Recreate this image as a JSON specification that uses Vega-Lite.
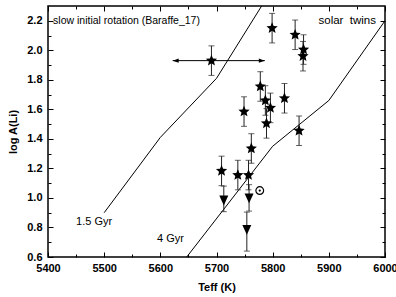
{
  "$schema": "https://vega.github.io/schema/vega-lite/v6.json",
  "width": 337,
  "height": 251,
  "autosize": {"type": "none"},
  "padding": {"left": 48, "top": 6, "right": 11, "bottom": 40},
  "background": "white",
  "config": {
    "view": {"stroke": "black", "strokeWidth": 1.5},
    "axis": {
      "labelFont": "Liberation Sans", "labelFontSize": 11, "labelFontWeight": "bold", "labelColor": "black",
      "titleFont": "Liberation Sans", "titleFontSize": 11, "titleFontWeight": "bold", "titleColor": "black",
      "tickColor": "black", "tickWidth": 1, "domain": false, "grid": false
    },
    "text": {"font": "Liberation Sans", "fontSize": 11, "color": "black"}
  },
  "datasets": {
    "models": [
      {"model": "1.5 Gyr", "Teff": 5500, "ALi": 0.90},
      {"model": "1.5 Gyr", "Teff": 5600, "ALi": 1.41},
      {"model": "1.5 Gyr", "Teff": 5700, "ALi": 1.81},
      {"model": "1.5 Gyr", "Teff": 5800, "ALi": 2.42},
      {"model": "4 Gyr", "Teff": 5647, "ALi": 0.60},
      {"model": "4 Gyr", "Teff": 5800, "ALi": 1.35},
      {"model": "4 Gyr", "Teff": 5900, "ALi": 1.66},
      {"model": "4 Gyr", "Teff": 6000, "ALi": 2.20}
    ],
    "stars": [
      {"type": "detection", "Teff": 5691, "ALi": 1.93, "lo": 1.83, "hi": 2.03},
      {"type": "detection", "Teff": 5799, "ALi": 2.15, "lo": 2.05, "hi": 2.25},
      {"type": "detection", "Teff": 5840, "ALi": 2.105, "lo": 2.005, "hi": 2.205},
      {"type": "detection", "Teff": 5855, "ALi": 2.005, "lo": 1.905, "hi": 2.105},
      {"type": "detection", "Teff": 5854, "ALi": 1.96, "lo": 1.86, "hi": 2.06},
      {"type": "detection", "Teff": 5778, "ALi": 1.755, "lo": 1.655, "hi": 1.855},
      {"type": "detection", "Teff": 5787, "ALi": 1.66, "lo": 1.56, "hi": 1.76},
      {"type": "detection", "Teff": 5796, "ALi": 1.61, "lo": 1.51, "hi": 1.71},
      {"type": "detection", "Teff": 5821, "ALi": 1.675, "lo": 1.575, "hi": 1.775},
      {"type": "detection", "Teff": 5749, "ALi": 1.585, "lo": 1.485, "hi": 1.685},
      {"type": "detection", "Teff": 5789, "ALi": 1.505, "lo": 1.405, "hi": 1.605},
      {"type": "detection", "Teff": 5847, "ALi": 1.455, "lo": 1.355, "hi": 1.555},
      {"type": "detection", "Teff": 5762, "ALi": 1.335, "lo": 1.235, "hi": 1.435},
      {"type": "detection", "Teff": 5709, "ALi": 1.183, "lo": 1.083, "hi": 1.283},
      {"type": "detection", "Teff": 5738, "ALi": 1.155, "lo": 1.055, "hi": 1.255},
      {"type": "detection", "Teff": 5757, "ALi": 1.155, "lo": 1.055, "hi": 1.255},
      {"type": "upper limit", "Teff": 5713, "ALi": 0.986, "lo": 0.907, "hi": 1.08},
      {"type": "upper limit", "Teff": 5758, "ALi": 1.0, "lo": 0.911, "hi": 1.09},
      {"type": "upper limit", "Teff": 5754, "ALi": 0.787, "lo": 0.64, "hi": 0.904}
    ],
    "arrow": [
      {"Teff": 5622, "Teff2": 5786, "ALi": 1.93}
    ],
    "heads": [
      {"end": "left", "Teff": 5622, "ALi": 1.93},
      {"end": "right", "Teff": 5786, "ALi": 1.93}
    ],
    "sun": [
      {"Teff": 5777, "ALi": 1.05}
    ],
    "labelsTitle": [
      {"label": "slow initial rotation (Baraffe_17)", "Teff": 5409, "ALi": 2.197}
    ],
    "labelsLeft": [
      {"label": "1.5 Gyr", "Teff": 5450, "ALi": 0.834},
      {"label": "4 Gyr", "Teff": 5594, "ALi": 0.721}
    ],
    "labelsRight": [
      {"label": "solar\u00a0 twins", "Teff": 5984, "ALi": 2.2}
    ]
  },
  "layer": [
    {
      "data": {"name": "models"},
      "mark": {"type": "line", "color": "black", "strokeWidth": 1, "clip": true},
      "encoding": {
        "x": {"field": "Teff", "type": "quantitative", "scale": {"domain": [5400, 6000], "nice": false, "zero": false},
              "axis": {"orient": "bottom", "values": [5400, 5500, 5600, 5700, 5800, 5900, 6000], "format": "d", "tickSize": -5, "labelPadding": 10, "title": "Teff (K)", "titlePadding": 8, "labelFlush": false}},
        "y": {"field": "ALi", "type": "quantitative", "scale": {"domain": [0.6, 2.3], "nice": false, "zero": false},
              "axis": {"orient": "left", "values": [0.6, 0.8, 1.0, 1.2, 1.4, 1.6, 1.8, 2.0, 2.2], "format": ".1f", "tickSize": -5, "labelPadding": 11, "title": "log A(Li)", "titlePadding": 8, "labelFlush": false}},
        "detail": {"field": "model", "type": "nominal"},
        "order": {"field": "Teff", "type": "quantitative"}
      }
    },
    {
      "data": {"name": "labelsLeft"},
      "mark": {"type": "text", "align": "left", "baseline": "middle"},
      "encoding": {
        "x": {"field": "Teff", "type": "quantitative",
              "axis": {"orient": "top", "values": [5400, 5500, 5600, 5700, 5800, 5900, 6000], "tickSize": -5, "labels": false, "title": null}},
        "y": {"field": "ALi", "type": "quantitative",
              "axis": {"orient": "right", "values": [0.6, 0.8, 1.0, 1.2, 1.4, 1.6, 1.8, 2.0, 2.2], "tickSize": -5, "labels": false, "title": null}},
        "text": {"field": "label", "type": "nominal"}
      }
    },
    {
      "data": {"name": "labelsRight"},
      "mark": {"type": "text", "align": "right", "baseline": "middle", "fontSize": 11.5},
      "encoding": {
        "x": {"field": "Teff", "type": "quantitative",
              "axis": {"orient": "bottom", "values": [5450, 5550, 5650, 5750, 5850, 5950], "tickSize": -3, "labels": false, "title": null}},
        "y": {"field": "ALi", "type": "quantitative",
              "axis": {"orient": "left", "values": [0.7, 0.9, 1.1, 1.3, 1.5, 1.7, 1.9, 2.1], "tickSize": -3, "labels": false, "title": null}},
        "text": {"field": "label", "type": "nominal"}
      }
    },
    {
      "data": {"name": "labelsTitle"},
      "mark": {"type": "text", "align": "left", "baseline": "middle", "fontSize": 10.5},
      "encoding": {
        "x": {"field": "Teff", "type": "quantitative", "axis": null},
        "y": {"field": "ALi", "type": "quantitative", "axis": null},
        "text": {"field": "label", "type": "nominal"}
      }
    },
    {
      "data": {"name": "stars"},
      "mark": {"type": "rule", "color": "#222", "strokeWidth": 1},
      "encoding": {
        "x": {"field": "Teff", "type": "quantitative",
              "axis": {"orient": "top", "values": [5450, 5550, 5650, 5750, 5850, 5950], "tickSize": -3, "labels": false, "title": null}},
        "y": {"field": "lo", "type": "quantitative",
              "axis": {"orient": "right", "values": [0.7, 0.9, 1.1, 1.3, 1.5, 1.7, 1.9, 2.1], "tickSize": -3, "labels": false, "title": null}},
        "y2": {"field": "hi"}
      }
    },
    {
      "data": {"name": "stars"},
      "mark": {"type": "tick", "orient": "horizontal", "color": "#222", "size": 6, "thickness": 1},
      "encoding": {
        "x": {"field": "Teff", "type": "quantitative", "axis": null},
        "y": {"field": "lo", "type": "quantitative", "axis": null}
      }
    },
    {
      "data": {"name": "stars"},
      "mark": {"type": "tick", "orient": "horizontal", "color": "#222", "size": 6, "thickness": 1},
      "encoding": {
        "x": {"field": "Teff", "type": "quantitative", "axis": null},
        "y": {"field": "hi", "type": "quantitative", "axis": null}
      }
    },
    {
      "data": {"name": "arrow"},
      "mark": {"type": "rule", "color": "black", "strokeWidth": 1},
      "encoding": {
        "x": {"field": "Teff", "type": "quantitative", "axis": null},
        "x2": {"field": "Teff2"},
        "y": {"field": "ALi", "type": "quantitative", "axis": null}
      }
    },
    {
      "data": {"name": "heads"},
      "transform": [{"filter": "datum.end === 'left'"}],
      "mark": {"type": "point", "shape": "M0,0L2,-0.7L2,0.7Z", "filled": true, "color": "black", "size": 36, "opacity": 1},
      "encoding": {
        "x": {"field": "Teff", "type": "quantitative", "axis": null},
        "y": {"field": "ALi", "type": "quantitative", "axis": null}
      }
    },
    {
      "data": {"name": "heads"},
      "transform": [{"filter": "datum.end === 'right'"}],
      "mark": {"type": "point", "shape": "M0,0L-2,-0.7L-2,0.7Z", "filled": true, "color": "black", "size": 36, "opacity": 1},
      "encoding": {
        "x": {"field": "Teff", "type": "quantitative", "axis": null},
        "y": {"field": "ALi", "type": "quantitative", "axis": null}
      }
    },
    {
      "data": {"name": "stars"},
      "transform": [{"filter": "datum.type === 'detection'"}],
      "mark": {"type": "point", "shape": "M0,-1L0.2645,-0.364L0.951,-0.309L0.428,0.139L0.588,0.809L0,0.45L-0.588,0.809L-0.428,0.139L-0.951,-0.309L-0.2645,-0.364Z", "filled": true, "color": "black", "size": 140, "opacity": 1},
      "encoding": {
        "x": {"field": "Teff", "type": "quantitative", "axis": null},
        "y": {"field": "ALi", "type": "quantitative", "axis": null}
      }
    },
    {
      "data": {"name": "stars"},
      "transform": [{"filter": "datum.type === 'upper limit'"}],
      "mark": {"type": "point", "shape": "M-1,-1L1,-1L0,1.2Z", "filled": true, "color": "black", "size": 81, "opacity": 1},
      "encoding": {
        "x": {"field": "Teff", "type": "quantitative", "axis": null},
        "y": {"field": "ALi", "type": "quantitative", "axis": null}
      }
    },
    {
      "data": {"name": "sun"},
      "mark": {"type": "point", "shape": "circle", "filled": false, "stroke": "black", "strokeWidth": 1.2, "size": 60, "opacity": 1},
      "encoding": {
        "x": {"field": "Teff", "type": "quantitative", "axis": null},
        "y": {"field": "ALi", "type": "quantitative", "axis": null}
      }
    },
    {
      "data": {"name": "sun"},
      "mark": {"type": "point", "shape": "circle", "filled": true, "color": "black", "size": 5, "opacity": 1},
      "encoding": {
        "x": {"field": "Teff", "type": "quantitative", "axis": null},
        "y": {"field": "ALi", "type": "quantitative", "axis": null}
      }
    }
  ],
  "resolve": {"axis": {"x": "independent", "y": "independent"}}
}
